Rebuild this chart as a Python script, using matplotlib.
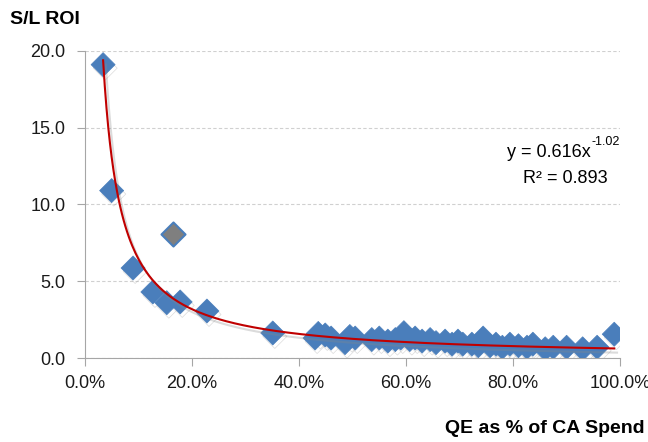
import numpy as np
import matplotlib
matplotlib.use('Agg')
import matplotlib.pyplot as plt
import matplotlib.patheffects as pe
from matplotlib.ticker import FuncFormatter, MultipleLocator

plt.rcParams['font.family'] = ['Liberation Sans Narrow', 'Liberation Sans', 'DejaVu Sans']

# QE as fraction of CA spend vs S/L ROI
qe_share = [0.034, 0.050, 0.090, 0.127, 0.153, 0.178, 0.228, 0.351,
            0.430, 0.436, 0.449, 0.460, 0.486, 0.495, 0.505, 0.536, 0.550,
            0.566, 0.580, 0.590, 0.596, 0.607, 0.617, 0.630, 0.645, 0.656,
            0.673, 0.686, 0.697, 0.706, 0.723, 0.735, 0.744, 0.757, 0.768,
            0.780, 0.794, 0.810, 0.826, 0.837, 0.860, 0.875, 0.900, 0.930,
            0.957, 0.989]
roi = [19.1, 10.9, 5.86, 4.3, 3.6, 3.65, 3.06, 1.63,
       1.3, 1.6, 1.5, 1.3, 1.0, 1.4, 1.3, 1.2, 1.3,
       1.1, 1.2, 1.3, 1.65, 1.2, 1.3, 1.1, 1.2, 1.0,
       1.1, 0.9, 1.1, 0.9, 0.9, 0.8, 1.3, 0.8, 0.9,
       0.7, 0.9, 0.8, 0.7, 0.9, 0.6, 0.7, 0.7, 0.6,
       0.7, 1.55]
# highlighted point
hl_x = [0.164]
hl_y = [8.1]

# power trendline shown on chart
coef_a = 0.616
coef_b = -1.02
r2 = 0.893

blue = '#4a7ebb'
axis_grey = '#a6a6a6'

fig = plt.figure(figsize=(6.48, 4.42), dpi=100)
ax = fig.add_axes([0.131, 0.19, 0.826, 0.695])

shadow = [pe.SimpleLineShadow(offset=(1.5, -2.5), shadow_color='#999999', alpha=0.35), pe.Normal()]

ax.scatter(qe_share, roi, marker='D', s=150, color=blue, edgecolors=blue,
           linewidths=0.5, zorder=3, path_effects=shadow)
ax.scatter(hl_x, hl_y, marker='D', s=150, color='#7f7f7f', edgecolors=blue,
           linewidths=1.5, zorder=3)

xs = np.linspace(min(qe_share), max(qe_share), 300)
ax.plot(xs, coef_a * xs ** coef_b, color='#c00000', lw=1.5, zorder=4,
        path_effects=[pe.SimpleLineShadow(offset=(2, -3), shadow_color='#888888', alpha=0.3),
                      pe.Normal()])

ax.set_xlim(0, 1.0)
ax.set_ylim(0, 20)
ax.xaxis.set_major_locator(MultipleLocator(0.2))
ax.yaxis.set_major_locator(MultipleLocator(5))
ax.xaxis.set_major_formatter(FuncFormatter(lambda v, p: f'{v*100:.1f}%'))
ax.yaxis.set_major_formatter(FuncFormatter(lambda v, p: f'{v:.1f}'))

for s in ['top', 'right']:
    ax.spines[s].set_visible(False)
for s in ['left', 'bottom']:
    ax.spines[s].set_color(axis_grey)
ax.tick_params(axis='both', direction='out', length=6, color=axis_grey,
               labelsize=13, labelcolor='#1a1a1a')
ax.tick_params(axis='x', pad=6)
ax.tick_params(axis='y', pad=8)
ax.grid(axis='y', color='#d0d0d0', linestyle=(0, (3, 2)), lw=0.8)
ax.set_axisbelow(True)

fig.text(0.015, 0.955, 'S/L ROI', fontsize=14, fontweight='bold', va='center', ha='left')
fig.text(0.995, 0.03, 'QE as % of CA Spend', fontsize=14, fontweight='bold',
         va='center', ha='right')

# trendline equation
eq = fig.text(0.912, 0.655, f'y = {coef_a}x', fontsize=13, ha='right', va='center')
ax.annotate(f'{coef_b}', xy=(1, 0.75), xycoords=eq, xytext=(0.5, 0),
            textcoords='offset points', fontsize=9, ha='left', va='bottom')
fig.text(0.872, 0.597, f'R² = {r2}', fontsize=13, ha='center', va='center')

fig.savefig('out.png', dpi=100)
